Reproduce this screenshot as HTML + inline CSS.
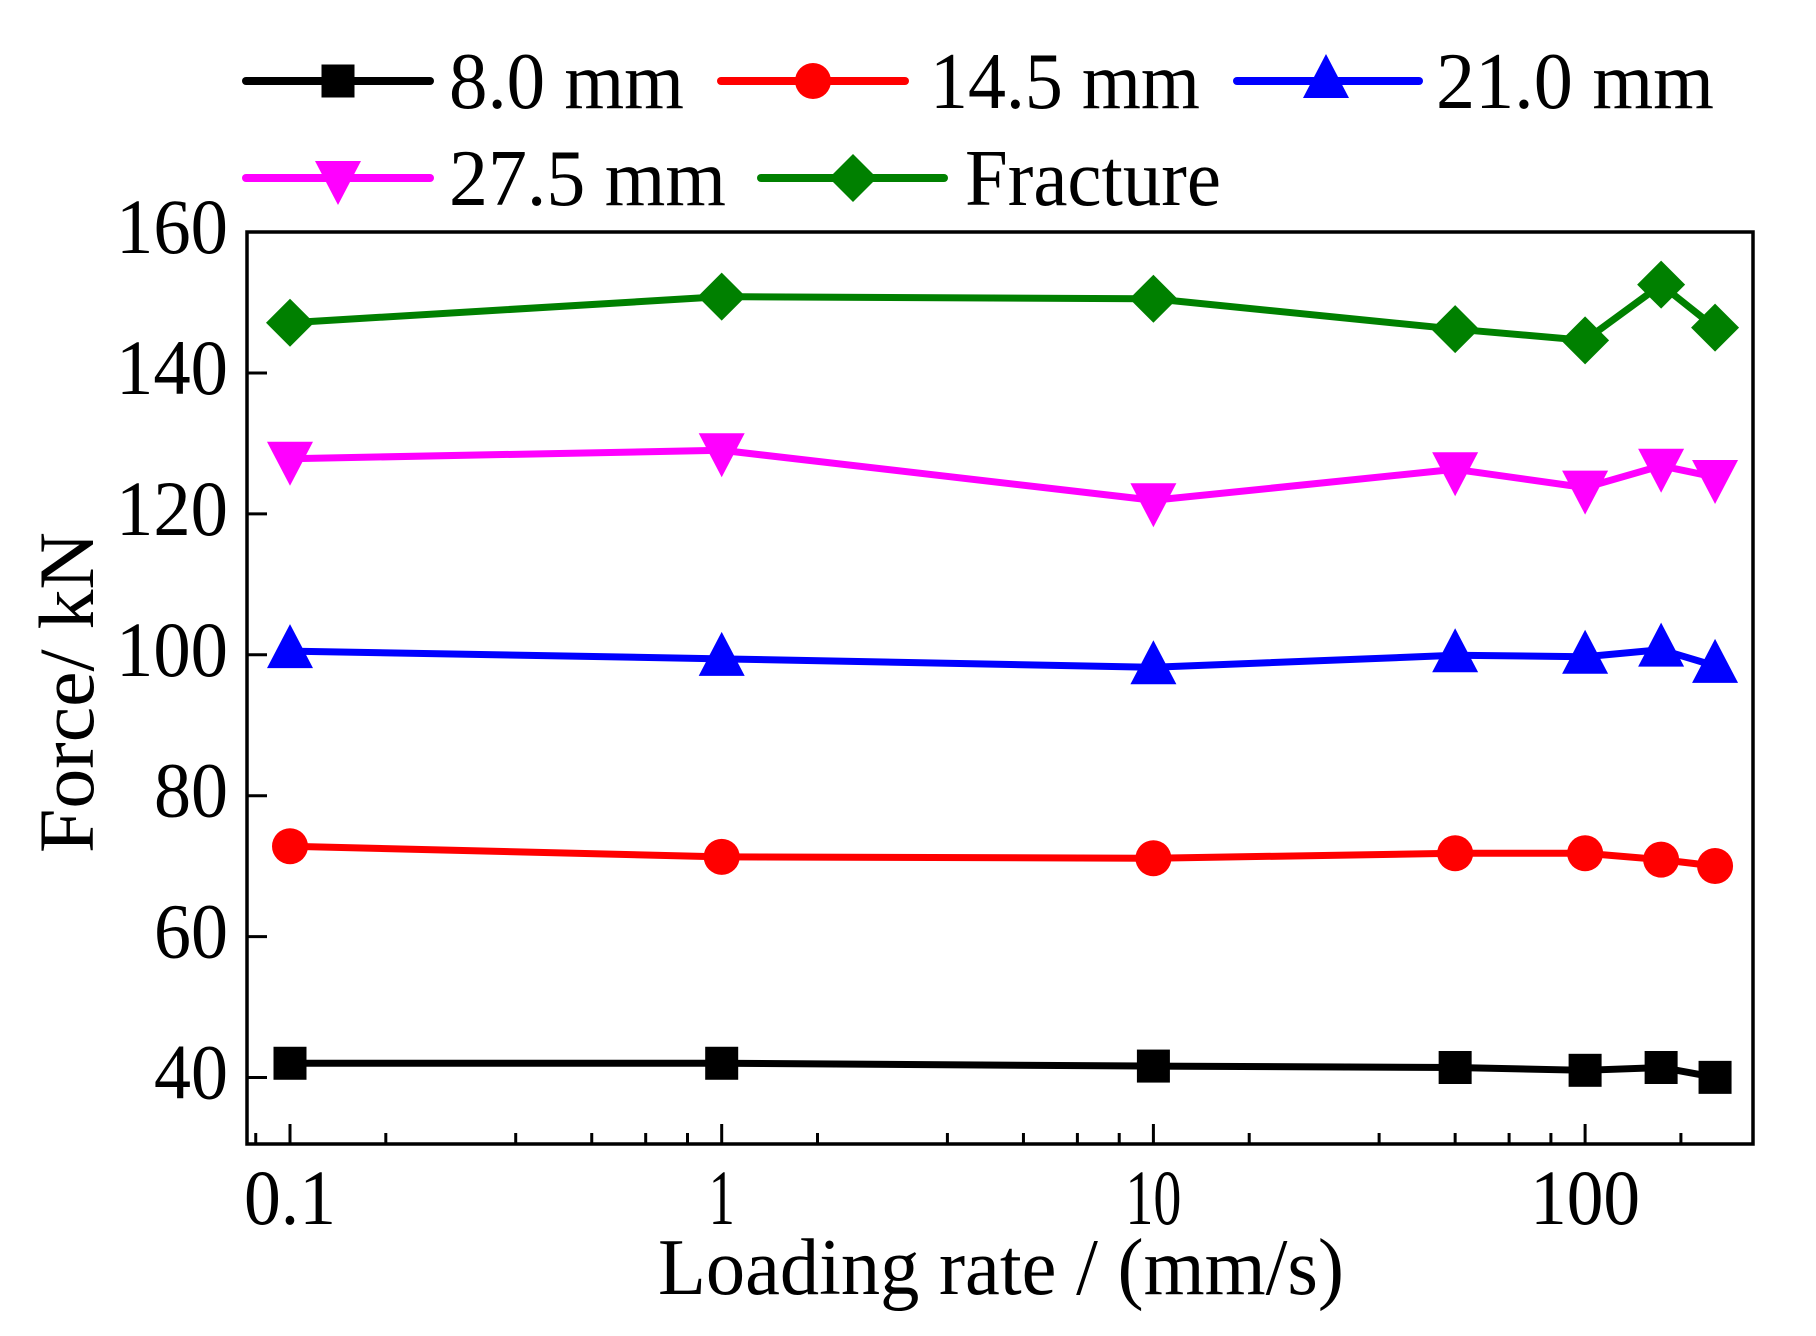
<!DOCTYPE html>
<html><head><meta charset="utf-8"><style>html,body{margin:0;padding:0;background:#fff}svg{display:block}</style></head>
<body>
<svg width="1816" height="1336" viewBox="0 0 1816 1336" xmlns="http://www.w3.org/2000/svg" font-family="Liberation Serif, serif">
<rect width="1816" height="1336" fill="#fff"/>
<g id="ticks" stroke="#000" stroke-width="3"></g>
<rect x="247" y="232" width="1506" height="912" fill="none" stroke="#000" stroke-width="3.5"/>
<g id="series"></g>
<g font-size="78" fill="#000" text-anchor="end" id="ylab"></g>
<g font-size="78" fill="#000" text-anchor="middle" id="xlab"></g>
<text x="658" y="1294" font-size="80" textLength="686" lengthAdjust="spacingAndGlyphs">Loading rate / (mm/s)</text>
<text transform="translate(93,853) rotate(-90)" font-size="78" textLength="321" lengthAdjust="spacingAndGlyphs">Force/ kN</text>
<g id="legend" font-size="80"></g>
<script>
var NS="http://www.w3.org/2000/svg";
function X(v){return 290+(Math.log10(v)+1)*431.7;}
function Y(v){return 1148-(v-30)*7.046;}
function YD(v){return Y(v)-3;}
function el(p,t,a,txt){var e=document.createElementNS(NS,t);for(var k in a)e.setAttribute(k,a[k]);if(txt!==undefined)e.textContent=txt;p.appendChild(e);return e;}
var tk=document.getElementById('ticks');
for(var v=40;v<=140;v+=20){var y=Y(v);el(tk,'line',{x1:247,y1:y,x2:267,y2:y});
 el(document.getElementById('ylab'),'text',{x:228,y:y+21,textLength:(v>=100?112:74),lengthAdjust:'spacingAndGlyphs'},String(v));}
el(document.getElementById('ylab'),'text',{x:228,y:232+21,textLength:112,lengthAdjust:'spacingAndGlyphs'},'160');
var majors=[0.1,1,10,100];
majors.forEach(function(m){var x=X(m);el(tk,'line',{x1:x,y1:1144,x2:x,y2:1124});});
var mins=[0.0833];
[0.1,1,10,100].forEach(function(b){[1.667,3.333,5,6.667,8.333].forEach(function(k){mins.push(b*k);});});
mins.forEach(function(m){var x=X(m);if(x<250||x>1750)return;el(tk,'line',{x1:x,y1:1144,x2:x,y2:1133});});
var xl=document.getElementById('xlab');
[['0.1',0.1,92],['1',1,26],['10',10,56],['100',100,110]].forEach(function(a){el(xl,'text',{x:X(a[1]),y:1224,textLength:a[2],lengthAdjust:'spacingAndGlyphs'},a[0]);});
var xs=[0.1,1,10,50,100,150,200];
var S=[
 {c:'#000',m:'sq',d:[41.6,41.6,41.2,41.0,40.6,41.0,39.6]},
 {c:'#ff0000',m:'ci',d:[72.4,70.9,70.7,71.4,71.4,70.5,69.6]},
 {c:'#0000ff',m:'tu',d:[100.1,99.0,97.8,99.5,99.3,100.3,98.0]},
 {c:'#ff00ff',m:'td',d:[127.4,128.6,121.5,125.9,123.3,126.4,124.8]},
 {c:'#008000',m:'di',d:[146.7,150.4,150.1,145.8,144.2,152.1,146.0]}
];
function marker(g,t,x,y,c){
 if(t=='sq')el(g,'rect',{x:x-16.5,y:y-16.5,width:33,height:33,fill:c});
 else if(t=='ci')el(g,'circle',{cx:x,cy:y,r:18,fill:c});
 else if(t=='tu')el(g,'polygon',{points:(x)+','+(y-27)+' '+(x+23)+','+(y+17)+' '+(x-23)+','+(y+17),fill:c});
 else if(t=='td')el(g,'polygon',{points:(x)+','+(y+27)+' '+(x+23)+','+(y-17)+' '+(x-23)+','+(y-17),fill:c});
 else el(g,'polygon',{points:x+','+(y-24)+' '+(x+24)+','+y+' '+x+','+(y+24)+' '+(x-24)+','+y,fill:c});
}
var sg=document.getElementById('series');
S.forEach(function(s){var pts=xs.map(function(x,i){return X(x)+','+YD(s.d[i]);}).join(' ');
 el(sg,'polyline',{points:pts,fill:'none',stroke:s.c,'stroke-width':7,'stroke-linejoin':'round'});
 xs.forEach(function(x,i){marker(sg,s.m,X(x),YD(s.d[i]),s.c);});});
var lg=document.getElementById('legend');
var L=[
 [246,430,338,81,108,449,235,'8.0 mm',0],
 [721,905,813,81,108,930,270,'14.5 mm',1],
 [1237,1419,1326,81,108,1436,278,'21.0 mm',2],
 [246,430,338,178,205,449,277,'27.5 mm',3],
 [761,944,853,178,205,965,256,'Fracture',4]];
L.forEach(function(l){var s=S[l[8]];
 el(lg,'line',{x1:l[0],y1:l[3],x2:l[1],y2:l[3],stroke:s.c,'stroke-width':8,'stroke-linecap':'round'});
 marker(lg,s.m,l[2],l[3],s.c);
 el(lg,'text',{x:l[5],y:l[4],textLength:l[6],lengthAdjust:'spacingAndGlyphs',fill:'#000'},l[7]);});
</script>
</svg>
</body></html>
